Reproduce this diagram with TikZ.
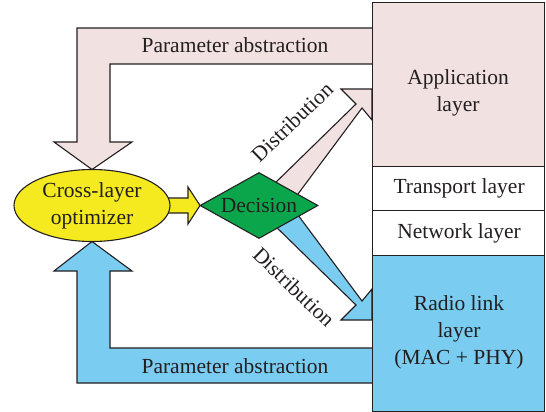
\documentclass[tikz,border=0pt]{standalone}
\usepackage{fontspec}
\setmainfont{Liberation Serif}
\usetikzlibrary{shapes.geometric}
\definecolor{pinkf}{HTML}{F2E1E1}
\definecolor{bluef}{HTML}{7ACCF1}
\definecolor{yellowf}{HTML}{F5EA1F}
\definecolor{greenf}{HTML}{0BA64B}
\definecolor{ink}{HTML}{231F20}
\tikzset{
  txt/.style={font=\fontsize{21.5}{27}\selectfont, text=ink, align=center, inner sep=0pt},
  edge/.style={draw=ink, line width=1.1pt, line join=miter},
  layerbox/.style={edge, rectangle, inner sep=0pt}
}
\begin{document}
\begin{tikzpicture}[x=1pt, y=-1pt]
\useasboundingbox (0,0) rectangle (546,412);
% block arrows
\path[edge, fill=pinkf] (380,28) -- (77,28) -- (77,142) -- (54,142) -- (92,169.5) -- (132,142) -- (110,142) -- (110,64) -- (380,64) -- cycle;
\path[edge, fill=bluef] (380,383) -- (77,383) -- (77,271) -- (54,271) -- (92,241.5) -- (132,271) -- (110,271) -- (110,348) -- (380,348) -- cycle;
\path[edge, fill=pinkf] (270,188) -- (356,104) -- (341,89) -- (372,89) -- (372,120) -- (362,108) -- (292,202) -- cycle;
\path[edge, fill=bluef] (270,221) -- (356,305) -- (341,320) -- (372,320) -- (372,289) -- (362,301) -- (292,207) -- cycle;
\path[edge, fill=yellowf] (150,198) -- (188,198) -- (188,187) -- (200,205.5) -- (188,224) -- (188,213) -- (150,213) -- cycle;
% nodes
\node[edge, ellipse, fill=yellowf, minimum width=156pt, minimum height=72pt, inner sep=0pt, txt] (opt) at (92,205.5) {Cross-layer\\optimizer};
\node[edge, diamond, aspect=1.79, fill=greenf, minimum width=118pt, minimum height=66pt, inner sep=0pt, txt] (dec) at (259,205.5) {Decision};
\node[layerbox, fill=pinkf, minimum width=172pt, minimum height=164pt, anchor=north west] (app) at (372,2) {};
\node[layerbox, fill=white, minimum width=172pt, minimum height=44pt, anchor=north west] (trans) at (372,166) {};
\node[layerbox, fill=white, minimum width=172pt, minimum height=45pt, anchor=north west] (net) at (372,210) {};
\node[layerbox, fill=bluef, minimum width=172pt, minimum height=156pt, anchor=north west] (radio) at (372,255) {};
\node[txt] (appt) at (458,93) {Application\\layer};
\node[txt] (transt) at (app.east |- trans.center) [xshift=-86pt] {Transport layer};
\node[txt] (nett) at (app.east |- net.center) [xshift=-86pt] {Network layer};
\node[txt] (radiot) at (459,332) {Radio link\\layer\\(MAC + PHY)};
% labels
\node[txt] (pa1) at (235,45) {Parameter abstraction};
\node[txt] (pa2) at (235,366) {Parameter abstraction};
\node[txt, rotate=44] (d1) at (292,122) {Distribution};
\node[txt, rotate=-44] (d2) at (294,287) {Distribution};
\end{tikzpicture}
\end{document}
